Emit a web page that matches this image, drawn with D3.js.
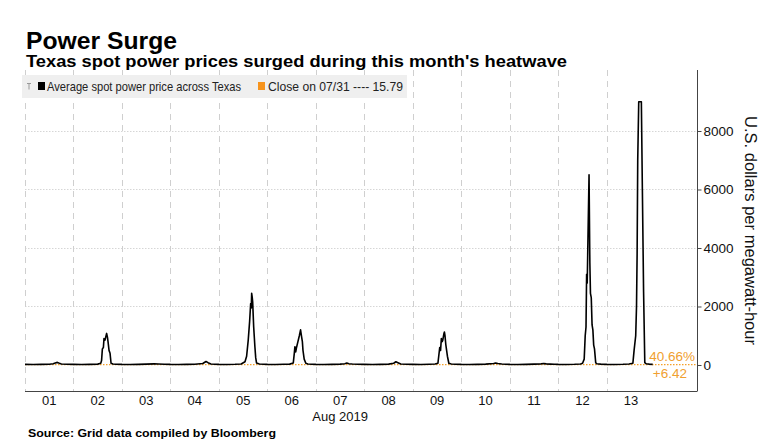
<!DOCTYPE html>
<html>
<head>
<meta charset="utf-8">
<script src="https://cdn.jsdelivr.net/npm/d3@7"></script>
<style>
  html, body { margin: 0; padding: 0; background: #fff; }
  svg { display: block; }
  text { font-family: "Liberation Sans", Arial, sans-serif; }
</style>
</head>
<body>
<svg id="chart" width="770" height="446"></svg>
<script>
// ---- Data (hours since 2019-08-01 00:00, price in USD/MWh) ----
const hours = [
  0, 4, 8, 12, 14, 15, 16, 17, 18, 21,
  24, 28, 32, 36, 37.5, 37.9, 38.3, 38.8, 39.1, 39.6, 40.4, 40.8, 41.1, 41.6, 42.1, 42.6, 43.5, 45,
  48, 52, 56, 60, 64, 66, 69,
  72, 76, 80, 84, 88, 89.6, 90.6, 92, 94,
  96, 100, 104, 107, 108.9, 109.7, 110.5, 111.2, 111.7, 112.0, 112.2, 112.5, 112.7, 113.2, 113.8, 114.2, 114.6, 116, 118,
  120, 124, 128, 131, 132.8, 133.3, 133.6, 134.0, 134.4, 135.1, 135.8, 136.4, 136.9, 137.3, 137.6, 138.2, 139.0, 140, 142,
  144, 148, 152, 156, 158.3, 159.3, 160.3, 162, 165,
  168, 172, 176, 180, 182.5, 183.6, 184.6, 186, 189,
  192, 196, 200, 203, 204.4, 205.3, 205.7, 206.1, 206.5, 206.8, 207.3, 207.6, 207.9, 208.3, 208.7, 209.1, 209.8, 211, 213,
  216, 220, 224, 228, 232, 233, 234, 236, 238,
  240, 244, 248, 252, 255.5, 256.8, 258, 260, 262,
  264, 268, 272, 275, 276.0, 276.8, 277.3, 277.7, 278.0, 278.3, 279.2, 279.6, 279.9, 280.3, 280.7, 281.1, 281.5, 281.9, 282.5, 283, 285,
  288, 292, 296, 299, 300.9, 301.5, 302.3, 302.7, 303.0, 303.3, 303.8, 305.1, 305.6, 306.2, 306.8, 307.5, 309, 310.7
];
const prices = [
  20, 17, 22, 28, 40, 70, 90, 60, 35, 25,
  20, 17, 22, 30, 60, 150, 550, 600, 900, 850, 1080, 950, 800, 500, 400, 60, 35, 28,
  20, 17, 22, 30, 38, 35, 28,
  20, 17, 22, 28, 50, 120, 80, 35, 28,
  22, 18, 24, 35, 110, 300, 850, 1500, 2100, 1950, 2450, 2300, 2150, 1300, 625, 250, 70, 35, 28,
  22, 18, 24, 30, 70, 400, 625, 450, 600, 800, 1000, 1200, 970, 800, 500, 200, 60, 35, 28,
  20, 17, 22, 30, 45, 65, 45, 32, 26,
  20, 17, 22, 30, 60, 110, 80, 35, 27,
  22, 18, 24, 32, 60, 600, 500, 900, 800, 850, 1050, 1130, 1000, 700, 500, 300, 60, 35, 28,
  20, 17, 22, 30, 50, 70, 50, 32, 26,
  20, 17, 22, 30, 40, 50, 38, 30, 25,
  20, 18, 24, 35, 60, 200, 1000, 1300, 3100, 2800, 6500, 3500, 2450, 2300, 1370, 1200, 680, 550, 80, 40, 30,
  22, 18, 24, 35, 60, 500, 1000, 2000, 3800, 7000, 9000, 9000, 6000, 2500, 80, 40, 30, 22.21
];
const dayCount = 13; // labelled days: Aug 01 .. Aug 13
const yTicks = [0, 2000, 4000, 6000, 8000];
const closeValue = 15.79;
const changeLabels = ["40.66%", "+6.42"];
const titleText = "Power Surge";
const subtitleText = "Texas spot power prices surged during this month's heatwave";
const legendLabels = ["Average spot power price across Texas", "Close on 07/31 ---- 15.79"];
const xAxisTitle = "Aug 2019";
const yAxisTitle = "U.S. dollars per megawatt-hour";
const sourceText = "Source: Grid data compiled by Bloomberg";

// ---- Layout ----
const svg = d3.select("#chart");
const pL = 25, pR = 697, pT = 70, pB = 391;
const start = Date.UTC(2019, 7, 1);
const toDate = h => new Date(start + h * 3600 * 1000);

const x = d3.scaleUtc()
  .domain([toDate(0), toDate(13.86 * 24)])
  .range([pL, pR]);
const y = d3.scaleLinear()
  .domain([-889, 10085])
  .range([pB, pT]);

const data = hours.map((h, i) => ({ t: toDate(h), v: prices[i] }));

// Horizontal dotted gridlines
svg.append("g").selectAll("line")
  .data(yTicks.filter(d => d !== 0))
  .join("line")
  .attr("x1", pL).attr("x2", pR)
  .attr("y1", d => Math.round(y(d)) + 0.5).attr("y2", d => Math.round(y(d)) + 0.5)
  .attr("stroke", "#d6d6d6").attr("stroke-width", 1)
  .attr("stroke-dasharray", "1.5,1.5");

// Vertical dashed day gridlines
const days = d3.utcDay.range(toDate(0), toDate(dayCount * 24));
svg.append("g").selectAll("line")
  .data(days)
  .join("line")
  .attr("x1", d => Math.round(x(d)) + 0.5).attr("x2", d => Math.round(x(d)) + 0.5)
  .attr("y1", pT).attr("y2", pB)
  .attr("stroke", "#cfcfcf").attr("stroke-width", 1)
  .attr("stroke-dasharray", "6,5");

// Close reference line
svg.append("line")
  .attr("x1", pL).attr("x2", pR)
  .attr("y1", y(closeValue)).attr("y2", y(closeValue))
  .attr("stroke", "#f5a02a").attr("stroke-width", 1.2)
  .attr("stroke-dasharray", "1.5,1.5");

// Price line
svg.append("path")
  .datum(data)
  .attr("fill", "none")
  .attr("stroke", "#000")
  .attr("stroke-width", 1.6)
  .attr("stroke-linejoin", "round")
  .attr("d", d3.line().x(d => x(d.t)).y(d => y(d.v)));

// Change labels
svg.append("text")
  .attr("x", pR - 2).attr("y", y(closeValue) - 4)
  .attr("text-anchor", "end")
  .attr("fill", "#f0a030").attr("font-size", 13.5)
  .text(changeLabels[0]);
svg.append("text")
  .attr("x", pR - 10).attr("y", y(closeValue) + 13)
  .attr("text-anchor", "end")
  .attr("fill", "#f0a030").attr("font-size", 13.5)
  .text(changeLabels[1]);

// Right axis
const yAxis = d3.axisRight(y).tickValues(yTicks).tickSize(4).tickPadding(2).tickFormat(d3.format("d"));
const ya = svg.append("g").attr("transform", `translate(${pR + 0.5},0)`).call(yAxis);
ya.select(".domain").attr("stroke", "#444").attr("d", `M0,${pT}V${pB}`);
ya.selectAll(".tick line").attr("stroke", "#444");
ya.selectAll(".tick text").attr("font-size", 13.5).attr("fill", "#111")
  .attr("font-family", "Liberation Sans, Arial, sans-serif");

// Bottom axis line
svg.append("line")
  .attr("x1", pL).attr("x2", pR + 0.5)
  .attr("y1", pB + 0.5).attr("y2", pB + 0.5)
  .attr("stroke", "#444").attr("stroke-width", 1);

// X labels at day centers
svg.append("g").selectAll("text")
  .data(days)
  .join("text")
  .attr("x", d => x(d3.utcHour.offset(d, 12)))
  .attr("y", pB + 14)
  .attr("text-anchor", "middle")
  .attr("font-size", 13).attr("fill", "#111")
  .text(d3.utcFormat("%d"));

svg.append("text")
  .attr("x", x(d3.utcHour.offset(days[6], 12)))
  .attr("y", pB + 30)
  .attr("text-anchor", "middle")
  .attr("font-size", 13).attr("fill", "#111")
  .text(xAxisTitle);

// Y axis title (rotated clockwise)
svg.append("text")
  .attr("transform", `translate(745,${(pT + pB) / 2}) rotate(90)`)
  .attr("text-anchor", "middle")
  .attr("font-size", 16).attr("fill", "#111")
  .attr("textLength", 229).attr("lengthAdjust", "spacingAndGlyphs")
  .text(yAxisTitle);

// Legend
const lg = svg.append("g");
lg.append("rect").attr("x", 22).attr("y", 75).attr("width", 385).attr("height", 23).attr("fill", "#efefef");
lg.append("path").attr("d", "M27,83.5h4M29,83.5v6").attr("stroke", "#999").attr("stroke-width", 1).attr("fill", "none");
lg.append("rect").attr("x", 38).attr("y", 82).attr("width", 7).attr("height", 8).attr("fill", "#000");
lg.append("text").attr("x", 47).attr("y", 91).attr("font-size", 13).attr("fill", "#222")
  .attr("textLength", 194).attr("lengthAdjust", "spacingAndGlyphs").text(legendLabels[0]);
lg.append("rect").attr("x", 258).attr("y", 82).attr("width", 7).attr("height", 8).attr("fill", "#f7941d");
lg.append("text").attr("x", 268).attr("y", 91).attr("font-size", 13).attr("fill", "#222")
  .attr("textLength", 135).attr("lengthAdjust", "spacingAndGlyphs").text(legendLabels[1]);

// Titles
svg.append("text").attr("x", 26).attr("y", 49)
  .attr("font-size", 24).attr("font-weight", "bold").attr("fill", "#000")
  .attr("font-family", "DejaVu Sans, Verdana, sans-serif")
  .attr("textLength", 151).attr("lengthAdjust", "spacingAndGlyphs")
  .text(titleText);
svg.append("text").attr("x", 26).attr("y", 67)
  .attr("font-size", 16).attr("font-weight", "bold").attr("fill", "#000")
  .attr("font-family", "DejaVu Sans, Verdana, sans-serif")
  .attr("textLength", 541).attr("lengthAdjust", "spacingAndGlyphs")
  .text(subtitleText);

// Source
svg.append("text").attr("x", 28).attr("y", 437)
  .attr("font-size", 11.5).attr("font-weight", "bold").attr("fill", "#000")
  .attr("font-family", "DejaVu Sans, Verdana, sans-serif")
  .attr("textLength", 248).attr("lengthAdjust", "spacingAndGlyphs")
  .text(sourceText);
</script>
</body>
</html>
